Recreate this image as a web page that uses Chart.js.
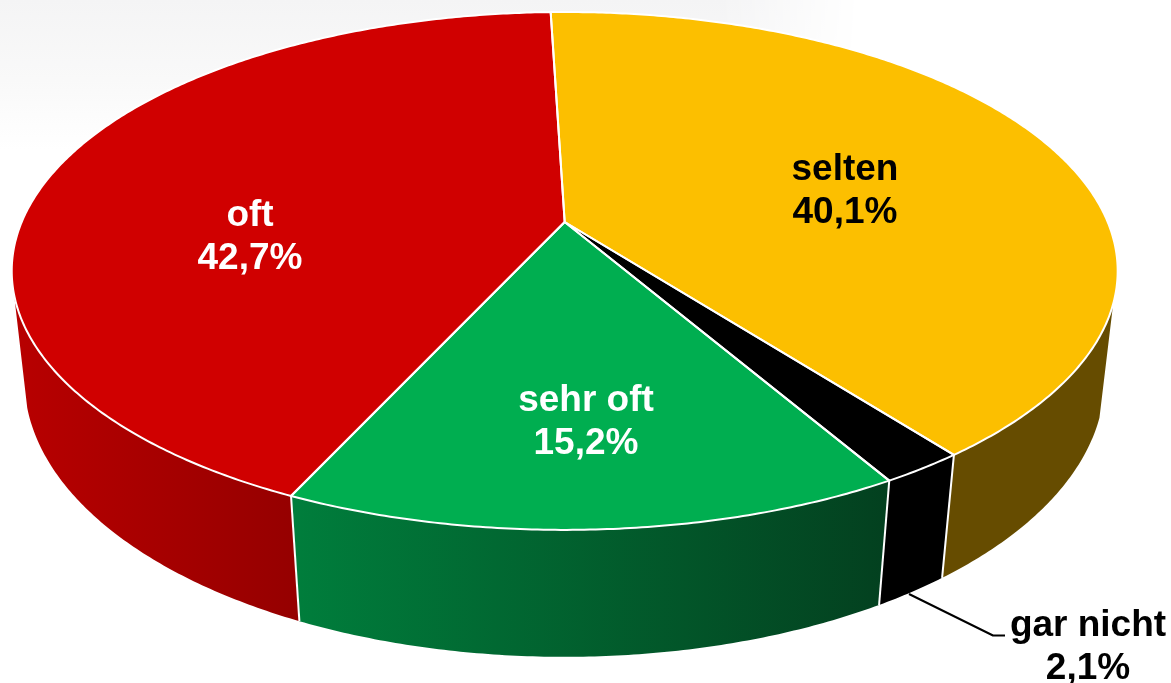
<!DOCTYPE html>
<html lang="de">
<head>
<meta charset="utf-8">
<title>Kreisdiagramm</title>
<script src="https://cdn.jsdelivr.net/npm/chart.js@4/dist/chart.umd.js"></script>
<style>
html,body{margin:0;padding:0;background:#fff;overflow:hidden}
#wrap{position:relative;width:1171px;height:683px;background:#fff}
#wrap::before{content:"";position:absolute;left:0;top:0;width:860px;height:150px;
  background:linear-gradient(to bottom,#f4f4f5 0,#f9f9f9 80px,#ffffff 150px);
  -webkit-mask-image:linear-gradient(to right,#000 0,#000 720px,transparent 860px);
  mask-image:linear-gradient(to right,#000 0,#000 720px,transparent 860px)}
canvas{display:block;position:relative}
</style>
</head>
<body>
<div id="wrap"><canvas id="c" width="1171" height="683"></canvas></div>
<script>
const categories = ["selten", "gar nicht", "sehr oft", "oft"];
const values = [40.1, 2.1, 15.2, 42.7];
const valueLabels = ["40,1%", "2,1%", "15,2%", "42,7%"];
const topColors = ["#fcbf00", "#000000", "#00ae50", "#d00000"];
const wallLeft = ["#664c00", "#000000", "#007e3c", "#b80000"];
const wallRight = ["#664c00", "#000000", "#03401f", "#960000"];
const textColors = ["#000000", "#000000", "#ffffff", "#ffffff"];
const labelCentres = [[845, 170], [1088, 626], [586, 401], [250, 216]];

/* projection of the flat pie disc on to the tilted view: upper and lower face */
const upper = {cx: 564.7, cy: 222, a: 543, b: 249.7, k: 0.189};
const lower = {cx: 564.5, cy: 330, a: 531.2, b: 268, k: 0.18};
const wallFrom = 108, wallTo = 254;
const rad = Math.PI / 180;
function rim(theta, face) {           /* theta: clockwise from 12 o'clock, radians */
  const u = Math.sin(theta), v = -Math.cos(theta), w = 1 - face.k * v;
  return [face.cx + face.a * u / w, face.cy + face.b * v / w];
}
function along(ctx, from, to, face) {
  const n = Math.max(2, Math.ceil(Math.abs(to - from) / (0.5 * rad)));
  for (let i = 0; i <= n; i++) {
    const p = rim(from + (to - from) * i / n, face);
    ctx.lineTo(p[0], p[1]);
  }
}
const pie3d = {
  id: "pie3d",
  beforeDatasetsDraw(chart) {
    const ctx = chart.ctx, arcs = chart.getDatasetMeta(0).data;
    const span = arcs.map(a => [a.startAngle + Math.PI / 2, a.endAngle + Math.PI / 2]);
    const lo = wallFrom * rad, hi = wallTo * rad;
    ctx.save();
    ctx.lineJoin = "round";
    /* side walls */
    span.forEach((s, i) => {
      const from = Math.max(s[0], lo), to = Math.min(s[1], hi);
      if (to <= from) return;
      const xa = rim(from, upper)[0], xb = rim(to, upper)[0];
      const g = ctx.createLinearGradient(Math.min(xa, xb), 0, Math.max(xa, xb), 0);
      g.addColorStop(0, wallLeft[i]);
      g.addColorStop(1, wallRight[i]);
      ctx.beginPath();
      along(ctx, from, to, upper);
      along(ctx, to, from, lower);
      ctx.closePath();
      ctx.fillStyle = g;
      ctx.fill();
    });
    /* seams between walls */
    ctx.strokeStyle = "#ffffff";
    ctx.lineWidth = 2;
    span.forEach(s => {
      if (s[0] > lo && s[0] < hi) {
        const a = rim(s[0], upper), b = rim(s[0], lower);
        ctx.beginPath(); ctx.moveTo(a[0], a[1]); ctx.lineTo(b[0], b[1]); ctx.stroke();
      }
    });
    /* top faces */
    span.forEach((s, i) => {
      ctx.beginPath();
      ctx.moveTo(upper.cx, upper.cy);
      along(ctx, s[0], s[1], upper);
      ctx.closePath();
      ctx.fillStyle = topColors[i];
      ctx.fill();
    });
    span.forEach(s => {
      ctx.beginPath();
      ctx.moveTo(upper.cx, upper.cy);
      along(ctx, s[0], s[1], upper);
      ctx.closePath();
      ctx.stroke();
    });
    /* leader line for the small slice */
    ctx.strokeStyle = "#000000";
    ctx.lineWidth = 2;
    ctx.beginPath();
    ctx.moveTo(909, 594);
    ctx.lineTo(993, 635.5);
    ctx.lineTo(1005, 635.5);
    ctx.stroke();
    /* labels */
    ctx.font = "bold 37px 'Liberation Sans', Arial, sans-serif";
    ctx.textAlign = "center";
    ctx.textBaseline = "middle";
    categories.forEach((name, i) => {
      ctx.fillStyle = textColors[i];
      ctx.fillText(name, labelCentres[i][0], labelCentres[i][1]);
      ctx.fillText(valueLabels[i], labelCentres[i][0], labelCentres[i][1] + 43);
    });
    ctx.restore();
    return false;
  }
};
new Chart(document.getElementById("c"), {
  type: "pie",
  data: {labels: categories, datasets: [{data: values, backgroundColor: topColors, borderColor: "#ffffff", borderWidth: 2}]},
  options: {
    responsive: false,
    animation: false,
    rotation: -1.76,
    plugins: {legend: {display: false}, tooltip: {enabled: false}}
  },
  plugins: [pie3d]
});
</script>
</body>
</html>
